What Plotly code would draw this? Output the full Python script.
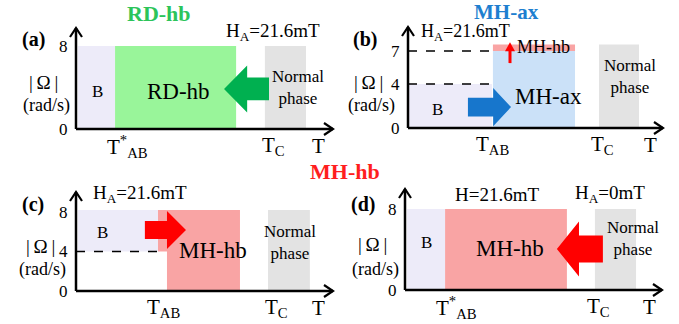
import plotly.graph_objects as go

W, H = 679, 324
FONT = "Liberation Serif"

# ---------------- data (schematic, arbitrary T units 0..10, |Omega| in rad/s) ----------
panel_names = ["a", "b", "c", "d"]
# pixel layout of each small diagram
panel_box_px = [(0, 0, 340, 162), (340, 0, 679, 162), (0, 162, 340, 324), (340, 162, 679, 324)]
panel_origin_px = [(76, 129), (408, 128), (76, 291), (405, 290)]
panel_xend_px = [333, 663, 333, 662]
panel_ytop_px = [28, 27, 192, 189]
panel_px_per_omega = [10.375, 11.0, 9.875, 10.125]
T_MAX = 10.0

# regions: (panel index, T start, T end, Omega low, Omega high, colour)
LAV, GREEN, GRAY, BLUE, PINK = "#EDEBF9", "#99F59A", "#E3E3E3", "#CBE1F8", "#F9A4A4"
region_panel = [0, 0, 0, 1, 1, 1, 1, 2, 2, 2, 2, 3, 3, 3]
region_t0 = [0.08, 1.52, 7.35, 0.0, 3.33, 3.33, 7.49, 0.08, 3.19, 3.54, 7.47, 0.08, 1.56, 7.39]
region_t1 = [1.52, 6.23, 8.95, 3.29, 6.55, 6.55, 9.06, 3.19, 3.54, 6.38, 9.10, 1.56, 6.30, 8.99]
region_w0 = [0, 0, 0, 0, 0, 7.0, 0, 4.0, 4.0, 0, 0, 0, 0, 0]
region_w1 = [8, 8, 8, 4.0, 7.0, 7.6, 7.6, 8.2, 8.2, 8.2, 8.2, 8, 8, 8]
region_col = [LAV, GREEN, GRAY, LAV, BLUE, PINK, GRAY, LAV, PINK, PINK, GRAY, LAV, PINK, GRAY]

# block arrows: (panel, tail T, tip T, Omega centre, shaft half-width, head half-width, head length)
arrow_panel = [0, 1, 2, 3]
arrow_tail = [7.51, 2.35, 2.68, 7.70]
arrow_tip = [5.76, 4.04, 4.28, 5.91]
arrow_omega = [3.86, 1.90, 6.18, 4.05]
arrow_shaft = [1.10, 0.86, 0.91, 1.33]
arrow_head = [2.27, 1.73, 1.92, 2.72]
arrow_headlen = [0.90, 0.70, 0.74, 0.86]
arrow_col = ["#00B050", "#1776CC", "#FF0000", "#FF0000"]

# thin vertical red arrow in (b): T position, Omega from -> to
red_arrow_t = 4.0
red_arrow_from = 5.9
red_arrow_to = 7.8

# dashed guide lines: (panel, T end, Omega)
dash_panel = [1, 1, 2]
dash_tend = [3.22, 3.22, 3.19]
dash_omega = [7, 4, 4]

# tick labels on Omega axis
tick_panel = [0, 0, 1, 1, 1, 2, 2, 2, 3, 3]
tick_value = [8, 0, 7, 4, 0, 8, 4, 0, 8, 0]

# T-axis labels
tlab_panel = [0, 0, 0, 1, 1, 1, 2, 2, 2, 3, 3, 3]
tlab_t = [2.02, 7.67, 9.42, 3.33, 7.61, 9.49, 3.39, 7.82, 9.42, 2.02, 7.51, 9.53]
tlab_text = ["T<sup>*</sup><sub>AB</sub>", "T<sub>C</sub>", "T",
             "T<sub>AB</sub>", "T<sub>C</sub>", "T",
             "T<sub>AB</sub>", "T<sub>C</sub>", "T",
             "T<sup>*</sup><sub>AB</sub>", "T<sub>C</sub>", "T"]

# ---------------- figure ----------------
fig = go.Figure()
layout_axes = {}
for i in range(4):
    ox, oy = panel_origin_px[i]
    bx0, by0, bx1, by1 = panel_box_px[i]
    spx = (panel_xend_px[i] - ox) / T_MAX
    spy = panel_px_per_omega[i]
    sfx = "" if i == 0 else str(i + 1)
    layout_axes["xaxis" + sfx] = dict(domain=[bx0 / W, bx1 / W],
                                      range=[(bx0 - ox) / spx, (bx1 - ox) / spx],
                                      visible=False, fixedrange=True, anchor="y" + sfx)
    layout_axes["yaxis" + sfx] = dict(domain=[1 - by1 / H, 1 - by0 / H],
                                      range=[(oy - by1) / spy, (oy - by0) / spy],
                                      visible=False, fixedrange=True, anchor="x" + sfx)
    fig.add_trace(go.Scatter(x=[0], y=[0], mode="markers", marker=dict(opacity=0),
                             hoverinfo="skip", showlegend=False,
                             xaxis="x" + sfx, yaxis="y" + sfx))


def refs(i):
    s = "" if i == 0 else str(i + 1)
    return "x" + s, "y" + s


def sx(i):
    return (panel_xend_px[i] - panel_origin_px[i][0]) / T_MAX


shapes = []
for p, t0, t1, w0, w1, c in zip(region_panel, region_t0, region_t1, region_w0, region_w1, region_col):
    xr, yr = refs(p)
    shapes.append(dict(type="rect", xref=xr, yref=yr, x0=t0, x1=t1, y0=w0, y1=w1,
                       fillcolor=c, line=dict(width=0), layer="below"))

for p, ta, tt, om, sh, hd, hl, c in zip(arrow_panel, arrow_tail, arrow_tip, arrow_omega,
                                         arrow_shaft, arrow_head, arrow_headlen, arrow_col):
    xr, yr = refs(p)
    d = 1 if tt > ta else -1
    hb = tt - d * hl
    path = (f"M {ta},{om - sh} L {hb},{om - sh} L {hb},{om - hd} L {tt},{om} "
            f"L {hb},{om + hd} L {hb},{om + sh} L {ta},{om + sh} Z")
    shapes.append(dict(type="path", xref=xr, yref=yr, path=path, fillcolor=c, line=dict(width=0)))

# thin red arrow (b)
spx_b, spy_b = sx(1), panel_px_per_omega[1]
head_len_px, head_hw_px = 9.0, 5.0
hb_om = red_arrow_to - head_len_px / spy_b
shapes.append(dict(type="line", xref="x2", yref="y2", x0=red_arrow_t, x1=red_arrow_t,
                   y0=red_arrow_from, y1=hb_om + 0.1, line=dict(color="#FF0000", width=3)))
shapes.append(dict(type="path", xref="x2", yref="y2",
                   path=(f"M {red_arrow_t - head_hw_px / spx_b},{hb_om} L {red_arrow_t},{red_arrow_to} "
                         f"L {red_arrow_t + head_hw_px / spx_b},{hb_om} Z"),
                   fillcolor="#FF0000", line=dict(width=0)))

for p, te, om in zip(dash_panel, dash_tend, dash_omega):
    xr, yr = refs(p)
    shapes.append(dict(type="line", xref=xr, yref=yr, x0=0, x1=te, y0=om, y1=om,
                       line=dict(color="black", width=1.5, dash="dash")))

for i in range(4):
    xr, yr = refs(i)
    ox, oy = panel_origin_px[i]
    ymax = (oy - panel_ytop_px[i]) / panel_px_per_omega[i]
    spx, spy = sx(i), panel_px_per_omega[i]
    shapes.append(dict(type="line", xref=xr, yref=yr, x0=0, x1=T_MAX, y0=0, y1=0,
                       line=dict(color="black", width=2.5)))
    shapes.append(dict(type="line", xref=xr, yref=yr, x0=0, x1=0, y0=0, y1=ymax,
                       line=dict(color="black", width=2.5)))
    hl, hw = 9.0, 6.0
    shapes.append(dict(type="path", xref=xr, yref=yr,
                       path=f"M {T_MAX - hl / spx},{hw / spy} L {T_MAX},0 L {T_MAX - hl / spx},{-hw / spy}",
                       line=dict(color="black", width=2.2)))
    shapes.append(dict(type="path", xref=xr, yref=yr,
                       path=f"M {-hw / spx},{ymax - hl / spy} L 0,{ymax} L {hw / spx},{ymax - hl / spy}",
                       line=dict(color="black", width=2.2)))

ann = []


def txt(p, x, y, text, size, color="black", bold=False, xanchor="center", yanchor="middle"):
    xr, yr = refs(p)
    ann.append(dict(xref=xr, yref=yr, x=x, y=y, text=f"<b>{text}</b>" if bold else text,
                    showarrow=False, xanchor=xanchor, yanchor=yanchor,
                    font=dict(family=FONT, size=size, color=color)))


for p, v in zip(tick_panel, tick_value):
    txt(p, -6 / sx(p), v, str(v), 17, xanchor="right")

for p, t, s in zip(tlab_panel, tlab_t, tlab_text):
    txt(p, t, -17 / panel_px_per_omega[p], s, 21)

omega_lab_t = [-1.25, -1.53, -1.40, -1.25]
omega_lab_y1 = [4.53, 4.18, 4.46, 4.54]
omega_lab_y2 = [2.31, 2.09, 2.13, 2.07]
letter_t = [-1.67, -1.69, -1.67, -1.63]
letter_y = [8.67, 8.09, 8.71, 8.40]
for p in range(4):
    txt(p, omega_lab_t[p], omega_lab_y1[p], "|\u2009Ω\u2009|", 19)
    txt(p, omega_lab_t[p] + 0.1, omega_lab_y2[p], "(rad/s)", 18)
    txt(p, letter_t[p], letter_y[p], f"({panel_names[p]})", 20, bold=True)

txt(0, 0.82, 3.57, "B", 17)
txt(0, 3.97, 3.57, "RD-hb", 23)
txt(0, 8.64, 4.0, "Normal<br>phase", 17)
txt(0, 7.67, 9.35, "H<sub>A</sub>=21.6mT", 19)
txt(0, 3.23, 11.18, "RD-hb", 22, color="#2CC45A", bold=True)

txt(1, 1.14, 1.64, "B", 17)
txt(1, 5.49, 2.82, "MH-ax", 23)
txt(1, 5.33, 7.36, "MH-hb", 18)
txt(1, 8.71, 4.64, "Normal<br>phase", 17)
txt(1, 2.27, 8.68, "H<sub>A</sub>=21.6mT", 18)
txt(1, 3.88, 10.55, "MH-ax", 21, color="#1E7FD0", bold=True)

txt(2, 1.05, 5.97, "B", 17)
txt(2, 5.33, 4.15, "MH-hb", 23)
txt(2, 8.33, 4.96, "Normal<br>phase", 17)
txt(2, 2.49, 9.82, "H<sub>A</sub>=21.6mT", 19)

txt(3, 0.82, 4.74, "B", 17)
txt(3, 4.09, 4.05, "MH-hb", 23)
txt(3, 8.87, 5.04, "Normal<br>phase", 17)
txt(3, 3.58, 9.48, "H=21.6mT", 19)
txt(3, 7.98, 9.48, "H<sub>A</sub>=0mT", 19)
txt(3, -2.33, 11.75, "MH-hb", 22, color="#FF1E1E", bold=True)

fig.update_layout(width=W, height=H, margin=dict(l=0, r=0, t=0, b=0),
                  paper_bgcolor="white", plot_bgcolor="rgba(0,0,0,0)", showlegend=False,
                  shapes=shapes, annotations=ann, **layout_axes)
fig.write_html("out.html", config={"displayModeBar": False},
               post_script="document.body.style.margin='0';")
